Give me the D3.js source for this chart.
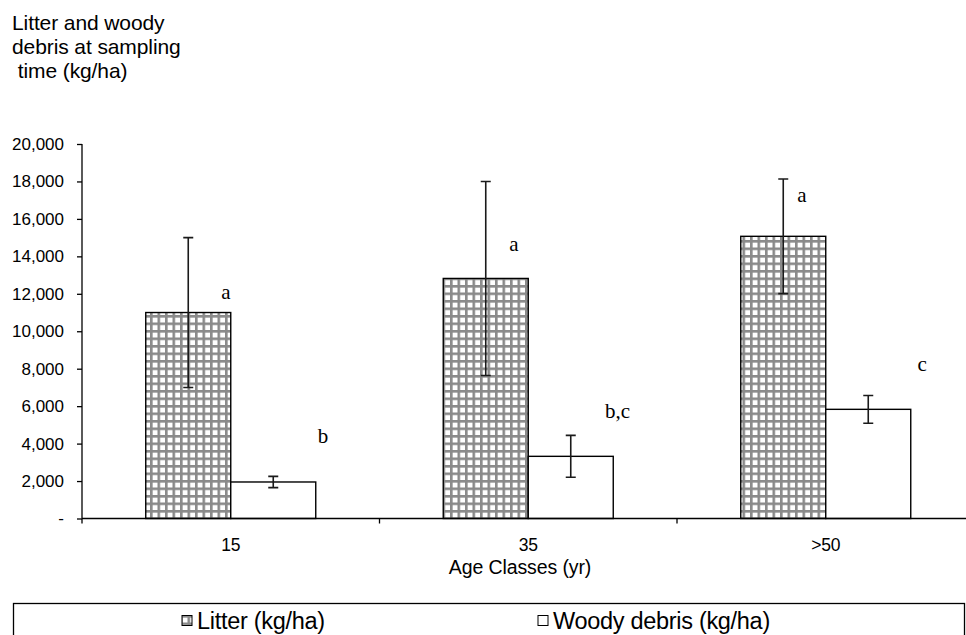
<!DOCTYPE html>
<html>
<head>
<meta charset="utf-8">
<script src="https://cdn.jsdelivr.net/npm/d3@7"></script>
<style>
  html, body { margin: 0; padding: 0; background: #fff; }
  svg { display: block; }
  text { font-family: "Liberation Sans", Arial, sans-serif; fill: #000; }
  .serif { font-family: "Liberation Serif", "Times New Roman", serif; }
</style>
</head>
<body>
<svg id="chart" width="966" height="635"></svg>
<script>
// Age classes on the x axis
const categories = ["15", "35", ">50"];
// Series names
const seriesNames = ["Litter (kg/ha)", "Woody debris (kg/ha)"];
// Mean mass at sampling time (kg/ha)
const litterMeans = [11000, 12820, 15070];
const woodyMeans = [1950, 3320, 5830];
// Error bar half-lengths (kg/ha)
const litterErr = [4000, 5180, 3060];
const woodyErr = [300, 1120, 740];
// Y axis tick values
const yTicks = [0, 2000, 4000, 6000, 8000, 10000, 12000, 14000, 16000, 18000, 20000];
// Significance letters: text, age class, place across the class band, height in kg/ha
const letterText = ["a", "b", "a", "b,c", "a", "c"];
const letterCat = ["15", "15", "35", "35", ">50", ">50"];
const letterBandPos = [0.484, 0.81, 0.452, 0.80, 0.42, 0.824];
const letterValue = [11700, 4050, 14300, 5350, 16900, 7900];
// Y axis title lines
const titleLines = ["Litter and woody", "debris at sampling", " time (kg/ha)"];

const svg = d3.select("#chart");

const plotLeft = 82, plotRight = 974.5, plotTop = 144, plotBottom = 518.5;

const x = d3.scaleBand().domain(categories).range([plotLeft, plotRight]).paddingInner(0).paddingOuter(0);
const y = d3.scaleLinear().domain([0, 20000]).range([plotBottom, plotTop]);

// gap width 150% of a bar
const barW = x.bandwidth() / 3.5;

// grid pattern for the litter bars
const defs = svg.append("defs");
const pitch = 7.5;
const pat = defs.append("pattern")
  .attr("id", "grid")
  .attr("patternUnits", "userSpaceOnUse")
  .attr("width", pitch).attr("height", pitch)
  .attr("x", 0).attr("y", 0);
pat.append("rect").attr("width", pitch).attr("height", pitch).attr("fill", "#ffffff");
pat.append("rect").attr("x", 0).attr("y", 0).attr("width", 2.6).attr("height", pitch).attr("fill", "#8a8a8a");
pat.append("rect").attr("x", 0).attr("y", 0).attr("width", pitch).attr("height", 2.6).attr("fill", "#8a8a8a");

// y axis title
const title = svg.append("text")
  .attr("font-size", 21)
  .attr("letter-spacing", "-0.1")
  .style("white-space", "pre");
titleLines.forEach((t, i) => {
  title.append("tspan").attr("x", 12).attr("y", 30 + i * 24).text(t);
});

// y axis
const yAxis = d3.axisLeft(y)
  .tickValues(yTicks)
  .tickSize(5)
  .tickPadding(13)
  .tickFormat(d => d === 0 ? "-" : d3.format(",")(d));
const gy = svg.append("g").attr("transform", `translate(${plotLeft},0)`).call(yAxis);
gy.select(".domain").attr("stroke", "#000").attr("stroke-width", 1.3).attr("d", `M0,${plotTop}V${plotBottom}`);
gy.selectAll(".tick line").attr("stroke", "#000").attr("stroke-width", 1.3);
gy.selectAll(".tick text")
  .attr("font-family", "Liberation Sans, Arial, sans-serif")
  .attr("font-size", 17)
  .attr("fill", "#000");

// bars
const groups = categories.map((c, i) => ({
  cat: c,
  items: [
    { s: 0, v: litterMeans[i], e: litterErr[i] },
    { s: 1, v: woodyMeans[i], e: woodyErr[i] }
  ]
}));

const barData = groups.flatMap(g => g.items.map(it => ({ cat: g.cat, ...it })));
const barX = d => x(d.cat) + x.bandwidth() / 2 - barW + d.s * barW;

svg.append("g").selectAll("rect").data(barData).join("rect")
  .attr("x", barX)
  .attr("y", d => y(d.v))
  .attr("width", barW)
  .attr("height", d => y(0) - y(d.v))
  .attr("fill", d => d.s === 0 ? "url(#grid)" : "#fff")
  .attr("stroke", "#000")
  .attr("stroke-width", 1.4);

// error bars
const eb = svg.append("g").attr("stroke", "#1a1a1a").attr("stroke-width", 1.6).attr("fill", "none");
const cap = 5;
eb.selectAll("path").data(barData).join("path")
  .attr("d", d => {
    const cx = barX(d) + barW / 2;
    const y1 = y(d.v + d.e), y2 = y(d.v - d.e);
    return `M${cx},${y1}V${y2}M${cx - cap},${y1}H${cx + cap}M${cx - cap},${y2}H${cx + cap}`;
  });

// x axis
const gx = svg.append("g").attr("transform", `translate(0,${plotBottom})`);
gx.append("path").attr("d", `M${plotLeft},0H${plotRight}`).attr("stroke", "#000").attr("stroke-width", 1.3);
const bounds = categories.map(c => x(c)).concat([plotRight]);
gx.selectAll("line.tk").data(bounds).join("line")
  .attr("class", "tk")
  .attr("x1", d => d).attr("x2", d => d)
  .attr("y1", 0).attr("y2", 5)
  .attr("stroke", "#000").attr("stroke-width", 1.3);
gx.selectAll("text").data(categories).join("text")
  .attr("x", d => x(d) + x.bandwidth() / 2)
  .attr("y", 32)
  .attr("text-anchor", "middle")
  .attr("font-size", 17.5)
  .attr("letter-spacing", "-0.3")
  .text(d => d);

svg.append("text")
  .attr("x", 520).attr("y", 574)
  .attr("text-anchor", "middle")
  .attr("font-size", 19.5)
  .attr("letter-spacing", "-0.1")
  .text("Age Classes (yr)");

// significance letters
svg.append("g").selectAll("text").data(letterText.map((t, i) => ({
  t, cat: letterCat[i], pos: letterBandPos[i], v: letterValue[i]
}))).join("text")
  .attr("class", "serif")
  .attr("x", d => x(d.cat) + d.pos * x.bandwidth())
  .attr("y", d => y(d.v))
  .attr("text-anchor", "middle")
  .attr("font-size", 21)
  .text(d => d.t);

// legend
const lg = svg.append("g");
lg.append("rect")
  .attr("x", 13.5).attr("y", 603.5)
  .attr("width", 951).attr("height", 60)
  .attr("fill", "#fff").attr("stroke", "#000").attr("stroke-width", 1.3);

const legendItems = [
  { name: seriesNames[0], fill: "url(#grid)", x: 182 },
  { name: seriesNames[1], fill: "#fff", x: 538 }
];
legendItems.forEach(it => {
  lg.append("rect")
    .attr("x", it.x).attr("y", 615.5)
    .attr("width", 10).attr("height", 10)
    .attr("fill", it.fill)
    .attr("stroke", "#000").attr("stroke-width", 1);
  lg.append("text")
    .attr("x", it.x + 15).attr("y", 629)
    .attr("font-size", 23.5)
    .attr("letter-spacing", "-0.3")
    .text(it.name);
});
</script>
</body>
</html>
